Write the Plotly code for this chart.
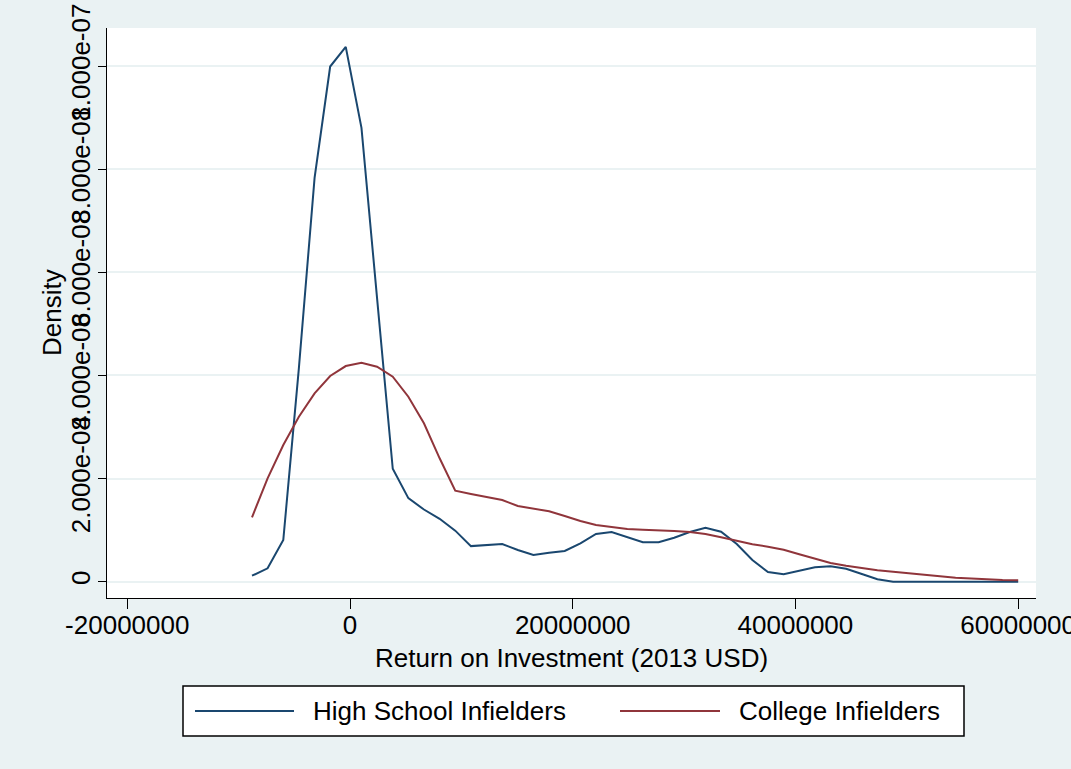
import plotly.graph_objects as go

# Kernel density estimates of return on investment (2013 USD)
# evaluation points, in millions of dollars
roi_millions = [
    -8.80, -7.40, -5.99, -4.59, -3.18, -1.78, -0.38, 1.03, 2.43, 3.84,
    5.24, 6.64, 8.05, 9.45, 10.86, 12.26, 13.67, 15.07, 16.47, 17.88,
    19.28, 20.69, 22.09, 23.49, 24.90, 26.30, 27.71, 29.11, 30.51, 31.92,
    33.32, 34.73, 36.13, 37.53, 38.94, 40.34, 41.75, 43.15, 44.55, 45.96,
    47.36, 48.77, 50.17, 51.57, 52.98, 54.38, 55.79, 57.19, 58.59, 60.00,
]

# densities, in units of 1e-8
high_school_density = [
    0.116, 0.260, 0.809, 4.14, 7.83, 9.99, 10.37, 8.80, 5.50, 2.19,
    1.62, 1.40, 1.22, 0.99, 0.69, 0.706, 0.731, 0.615, 0.518, 0.562,
    0.595, 0.745, 0.925, 0.964, 0.867, 0.764, 0.764, 0.853, 0.964, 1.047,
    0.970, 0.731, 0.421, 0.188, 0.143, 0.207, 0.279, 0.299, 0.252, 0.149,
    0.047, 0.0, 0.0, 0.0, 0.0, 0.0, 0.0, 0.0, 0.0, 0.0,
]
college_density = [
    1.249, 2.005, 2.651, 3.200, 3.653, 3.989, 4.182, 4.246, 4.169, 3.975,
    3.587, 3.071, 2.393, 1.764, 1.700, 1.648, 1.584, 1.468, 1.410, 1.365,
    1.274, 1.177, 1.099, 1.061, 1.022, 1.008, 1.002, 0.983, 0.964, 0.925,
    0.861, 0.789, 0.725, 0.679, 0.620, 0.531, 0.440, 0.363, 0.310, 0.266,
    0.221, 0.194, 0.169, 0.136, 0.105, 0.078, 0.058, 0.047, 0.033, 0.027,
]

x_tick_values = [-20000000, 0, 20000000, 40000000, 60000000]
y_tick_values = [0.0, 2e-08, 4e-08, 6e-08, 8e-08, 1e-07]

series = [
    ("High School Infielders", high_school_density, "#1A476F"),
    ("College Infielders", college_density, "#90353B"),
]

FONT = "Liberation Sans, Arial, Helvetica, sans-serif"
FS = 26
BG = "#EAF2F3"
W, H = 1071, 769
L, R, T, B = 107, 35, 28, 171

x = [v * 1e6 for v in roi_millions]

fig = go.Figure()
for name, dens, color in series:
    fig.add_trace(go.Scatter(
        x=x, y=[d * 1e-8 for d in dens], name=name, mode="lines",
        line=dict(color=color, width=2), showlegend=False,
    ))


def y_label(v):
    return "0" if v == 0 else f"{v:.3e}"


fig.update_layout(
    width=W, height=H,
    margin=dict(l=L, r=R, t=T, b=B, pad=0),
    paper_bgcolor=BG, plot_bgcolor="white",
    font=dict(family=FONT, size=FS, color="black"),
    xaxis=dict(
        range=[-21.82e6, 61.6e6], automargin=False,
        tickmode="array", tickvals=x_tick_values,
        ticktext=[str(v) for v in x_tick_values],
        ticklabeloverflow="allow", ticklabelstandoff=-6,
        tickfont=dict(size=FS),
        ticks="outside", ticklen=10, tickwidth=1, tickcolor="black",
        showline=True, linecolor="black", linewidth=1,
        showgrid=False, zeroline=False,
    ),
    yaxis=dict(
        range=[-3.16e-9, 1.0737e-7], automargin=False,
        tickmode="array", tickvals=y_tick_values,
        ticktext=[y_label(v) for v in y_tick_values],
        tickangle=-90, ticklabeloverflow="allow", ticklabelstandoff=-2,
        tickfont=dict(size=FS),
        ticks="outside", ticklen=8, tickwidth=1, tickcolor="black",
        showline=True, linecolor="black", linewidth=1,
        showgrid=True, gridcolor=BG, gridwidth=1.5,
        zeroline=False,
    ),
)

plot_w = W - L - R
plot_h = H - T - B


def px_x(p):
    return (p - L) / plot_w


def px_y(p):
    return (H - B - p) / plot_h


# Axis titles
fig.add_annotation(text="Return on Investment (2013 USD)", xref="paper", yref="paper",
                   x=0.5, y=px_y(658), xanchor="center", yanchor="middle",
                   showarrow=False, font=dict(family=FONT, size=FS, color="black"))
fig.add_annotation(text="Density", xref="paper", yref="paper", textangle=-90,
                   x=px_x(52), y=0.5, xanchor="center", yanchor="middle",
                   showarrow=False, font=dict(family=FONT, size=FS, color="black"))

# Legend drawn as a framed box below the plot, with long line samples
fig.add_shape(type="rect", xref="paper", yref="paper",
              x0=px_x(183), x1=px_x(964), y0=px_y(736), y1=px_y(686),
              line=dict(color="black", width=1.5), fillcolor="white", layer="below")

legend_slots = [(195, 294, 311), (620, 720, 737)]
for (name, _, color), (lx0, lx1, tx) in zip(series, legend_slots):
    fig.add_shape(type="line", xref="paper", yref="paper",
                  x0=px_x(lx0), x1=px_x(lx1), y0=px_y(711), y1=px_y(711),
                  line=dict(color=color, width=2))
    fig.add_annotation(text=name, xref="paper", yref="paper",
                       x=px_x(tx), y=px_y(711), xanchor="left", yanchor="middle",
                       showarrow=False, font=dict(family=FONT, size=FS, color="black"))

fig.write_html("out.html")
